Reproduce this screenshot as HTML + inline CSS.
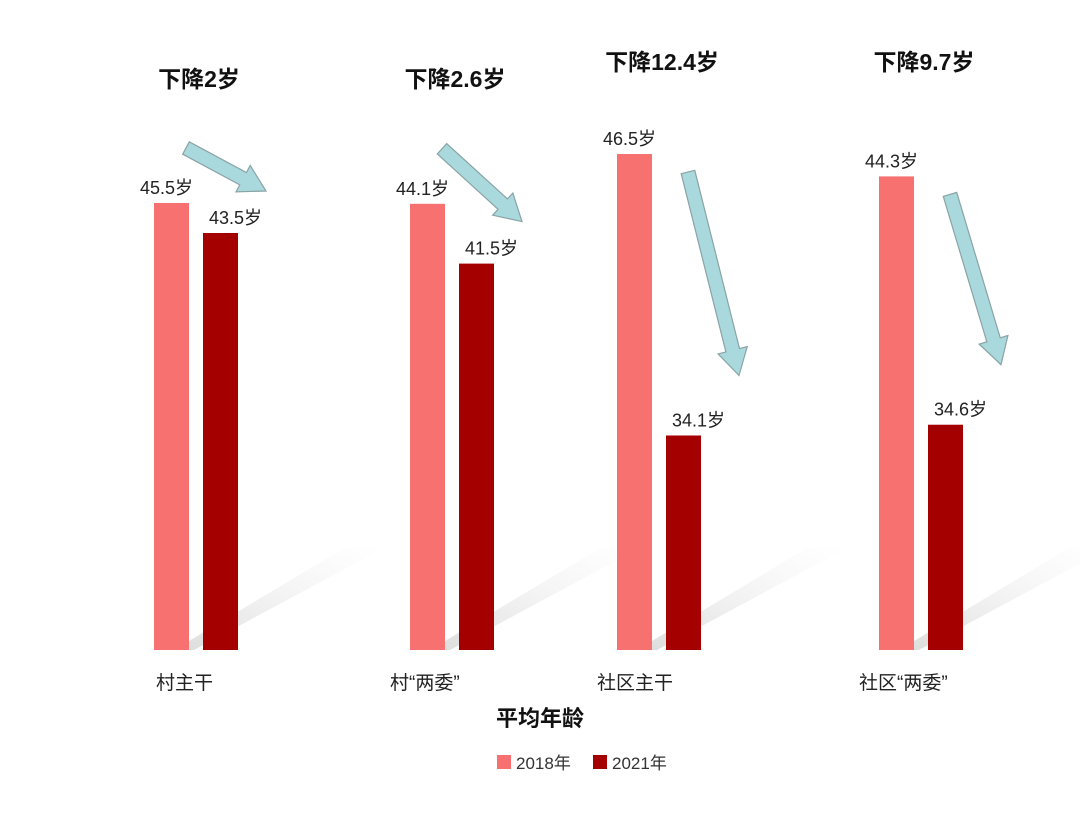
<!DOCTYPE html>
<html><head><meta charset="utf-8"><style>
body{margin:0;background:#fff}
svg text{font-family:"Liberation Sans","Noto Sans CJK SC",sans-serif}
</style></head><body>
<svg id="c" width="1080" height="810" viewBox="0 0 1080 810">
<defs>
<linearGradient id="sh" x1="0" y1="1" x2="1" y2="0">
<stop offset="0" stop-color="#d8d8d8" stop-opacity="0.9"/><stop offset="1" stop-color="#eee" stop-opacity="0"/>
</linearGradient>
</defs>
<g id="shadows"></g>
<g id="bars"></g>
<g id="arrows"></g>
<g id="labels"></g>
<text x="540" y="726" text-anchor="middle" font-size="22" font-weight="bold" fill="#111">平均年龄</text>
<g>
<rect x="497" y="755" width="14" height="14" fill="#f87171"/>
<text x="516" y="769" font-size="17" fill="#333">2018年</text>
<rect x="593" y="755" width="14" height="14" fill="#a50000"/>
<text x="612" y="769" font-size="17" fill="#333">2021年</text>
</g>
</svg>
<script>
const categories=["村主干","村“两委”","社区主干","社区“两委”"];
const values2018=[45.5,44.1,46.5,44.3];
const values2021=[43.5,41.5,34.1,34.6];
const dropLabels=["下降2岁","下降2.6岁","下降12.4岁","下降9.7岁"];
const groupDomainMin=[15.7,24.7,24.65,25.8];
const groupPxPerYear=[15,23,22.7,25.6];
const NS="http://www.w3.org/2000/svg";
const base=650, bw=35;
const gx=[154,410,617,879];
function y(g,v){return base-(v-groupDomainMin[g])*groupPxPerYear[g];}
function mk(tag,attrs,parent){const e=document.createElementNS(NS,tag);for(const k in attrs)e.setAttribute(k,attrs[k]);parent.appendChild(e);return e;}
const bars=document.getElementById('bars'),labels=document.getElementById('labels'),arrows=document.getElementById('arrows'),shadows=document.getElementById('shadows');
function arrow(x1,y1,x2,y2,parent){
  const dx=x2-x1,dy=y2-y1,L=Math.hypot(dx,dy),ux=dx/L,uy=dy/L,nx=-uy,ny=ux;
  const sw=7,hw=15,hl=26;
  const bx=x2-ux*hl,by=y2-uy*hl;
  const p=[[x1+nx*sw,y1+ny*sw],[bx+nx*sw,by+ny*sw],[bx+nx*hw,by+ny*hw],[x2,y2],[bx-nx*hw,by-ny*hw],[bx-nx*sw,by-ny*sw],[x1-nx*sw,y1-ny*sw]];
  return mk('polygon',{points:p.map(q=>q.join(',')).join(' '),fill:'#a9d9dc',stroke:'#8aa3a6','stroke-width':1.2},parent);
}
for(let g=0;g<categories.length;g++){
  const x=gx[g];
  const s=mk('polygon',{points:`${x+20},650 ${x+40},650 ${x+230},548 ${x+190},548`,fill:'url(#sh)'},shadows);
  
  
  const y1=y(g,values2018[g]),y2=y(g,values2021[g]);
  const b1=mk('rect',{x:x,y:y1,width:bw,height:base-y1,fill:'#f87171'},bars);
  
  
  const b2=mk('rect',{x:x+49,y:y2,width:bw,height:base-y2,fill:'#a50000'},bars);
  
  
  const t1=mk('text',{x:x-14,y:y1-9,'font-size':18,fill:'#222'},labels);t1.textContent=values2018[g]+'岁';
  
  
  const t2=mk('text',{x:x+49+6,y:y2-9,'font-size':18,fill:'#222'},labels);t2.textContent=values2021[g]+'岁';
  
  
  const c=mk('text',{x:x+(g==0?2:-20),y:689,'font-size':19,fill:'#222'},labels);c.textContent=categories[g];
  
  
  const d=mk('text',{x:x+45+(g==2?0:0),y:[87,87,70,70][g],'text-anchor':'middle','font-size':23,'font-weight':'bold',fill:'#111'},labels);d.textContent=dropLabels[g];
  
  
  // arrow from above 2018 bar toward 2021 bar top
  const ax1=g<2?x+32:x+71, ay1=g<2?y1-55:y1+18;
  const ax2=x+49+bw-2+ (g<2?30:40), ay2=y2-(g<2?42:60);
  const a=arrow(ax1,ay1,ax2,ay2,arrows);
  
  
}
</script>
</body></html>
